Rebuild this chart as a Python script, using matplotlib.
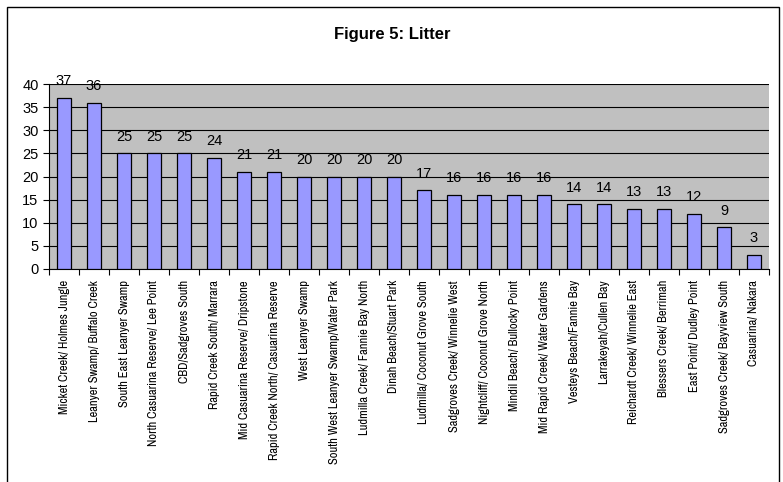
import matplotlib
matplotlib.use('Agg')
import matplotlib.pyplot as plt
import numpy as np
from matplotlib import font_manager

sites = ['Micket Creek/ Holmes Jungle', 'Leanyer Swamp/ Buffalo Creek', 'South East Leanyer Swamp',
         'North Casuarina Reserve/ Lee Point', 'CBD/Sadgroves South', 'Rapid Creek South/ Marrara',
         'Mid Casuarina Reserve/ Dripstone', 'Rapid Creek North/ Casuarina Reserve', 'West Leanyer Swamp',
         'South West Leanyer Swamp/Water Park', 'Ludmilla Creek/ Fannie Bay North', 'Dinah Beach/Stuart Park',
         'Ludmilla/ Coconut Grove South', 'Sadgroves Creek/ Winnelie West', 'Nightcliff/ Coconut Grove North',
         'Mindil Beach/ Bullocky Point', 'Mid Rapid Creek/ Water Gardens', 'Vesteys Beach/Fannie Bay',
         'Larrakeyah/Cullen Bay', 'Reichardt Creek/ Winnelie East', 'Blessers Creek/ Berrimah',
         'East Point/ Dudley Point', 'Sadgroves Creek/ Bayview South', 'Casuarina/ Nakara']
litter = [37, 36, 25, 25, 25, 24, 21, 21, 20, 20, 20, 20, 17, 16, 16, 16, 16, 14, 14, 13, 13, 12, 9, 3]
yticks = [0, 5, 10, 15, 20, 25, 30, 35, 40]

names = {f.name for f in font_manager.fontManager.ttflist}
narrow = 'Liberation Sans'
for cand in ['Liberation Sans Narrow', 'Archivo Narrow', 'Asap Condensed', 'Barlow Condensed']:
    if cand in names:
        narrow = cand
        break
plt.rcParams['font.family'] = ['Liberation Sans', 'DejaVu Sans']

fig = plt.figure(figsize=(7.83, 4.82), dpi=100)
fig.patches.append(plt.Rectangle((7 / 783, -0.01), 772 / 783, 1 - 7 / 482 + 0.01, transform=fig.transFigure,
                                 fill=False, edgecolor='black', linewidth=1.0))
ax = fig.add_axes([49 / 783, 1 - 269 / 482, 720 / 783, 185 / 482])
ax.set_facecolor('#C0C0C0')

x = np.arange(len(sites))
ax.bar(x, litter, width=0.45, color='#9999FF', edgecolor='black', linewidth=0.9, zorder=3)
for xi, v in zip(x, litter):
    ax.annotate(str(v), (xi, v), xytext=(0, 7), textcoords='offset points',
                ha='center', va='bottom', fontsize=10.5, zorder=4, annotation_clip=False)

ax.set_xlim(-0.5, len(sites) - 0.5)
ax.set_ylim(0, 40)
ax.set_yticks(yticks)
ax.tick_params(axis='y', labelsize=10.5, length=4, width=0.8, direction='out')
ax.yaxis.grid(True, color='black', linewidth=0.8, zorder=1)
ax.set_axisbelow(True)

ax.set_xticks(np.arange(len(sites) + 1) - 0.5)
ax.set_xticklabels([])
ax.tick_params(axis='x', which='major', length=4, width=0.8, direction='out')
ax.set_xticks(x, minor=True)
ax.set_xticklabels(sites, minor=True, rotation=90, fontsize=9, family=narrow)
ax.tick_params(axis='x', which='minor', length=0, pad=8)

for side in ['top', 'right']:
    ax.spines[side].set_visible(False)
ax.spines['left'].set_color('black')
ax.spines['bottom'].set_color('black')

fig.text(392 / 783, 1 - 34 / 482, 'Figure 5: Litter', ha='center', va='center', fontsize=12, fontweight='bold')

fig.savefig('out.png', dpi=100)
